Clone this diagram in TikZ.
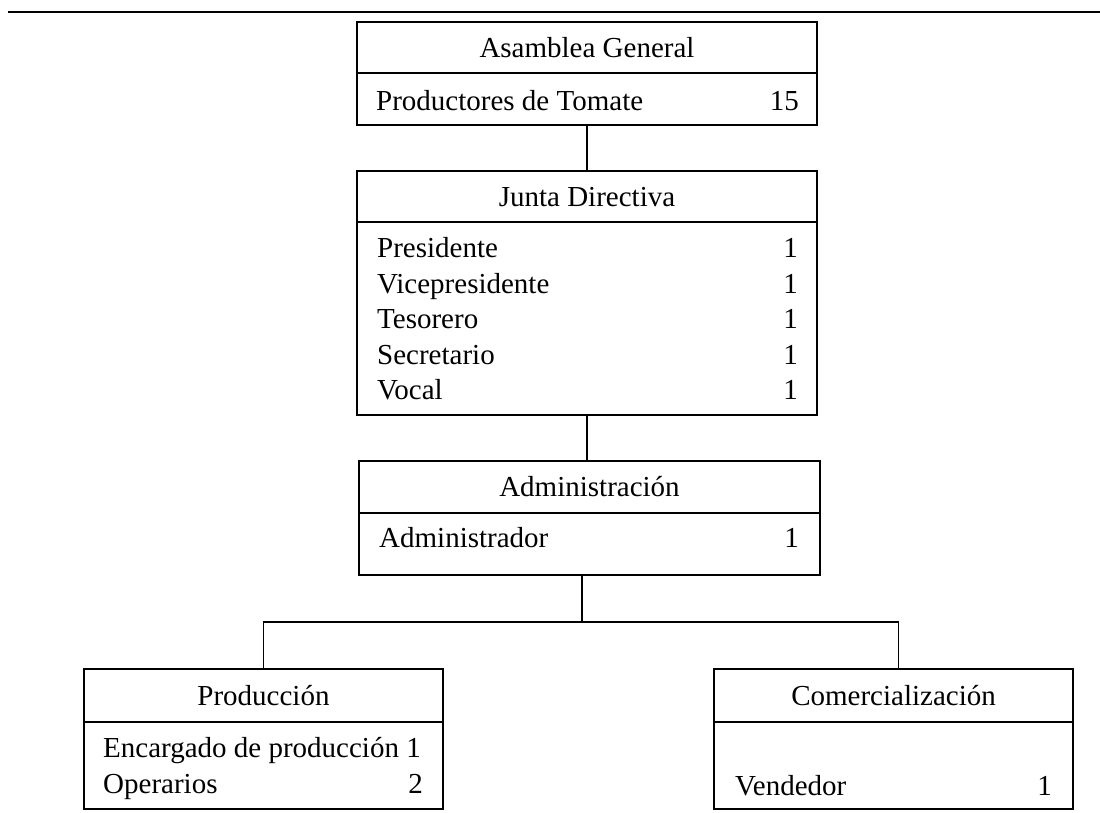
\documentclass[tikz,border=0pt]{standalone}
\usepackage{fontspec}
\setmainfont{Liberation Serif}
\newcommand{\fs}{\fontsize{29}{35}\selectfont}
\begin{document}
\begin{tikzpicture}[x=1pt,y=-1pt,
  box/.style={draw, line width=1.3pt, inner sep=0pt, outer sep=0pt, anchor=north west},
  hd/.style={box, text height=19.5pt, text depth=0pt, font=\fs},
  item/.style={inner sep=0pt, anchor=base west, font=\fs},
  num/.style={inner sep=0pt, anchor=base east, font=\fs},
  link/.style={line width=1.3pt}]
\useasboundingbox (0,0) rectangle (1100,812);
\draw[line width=2.5pt] (8,12) -- (1100,12);

% Asamblea General
\node[hd, minimum width=460pt, minimum height=51pt] (agh) at (357,22) {Asamblea General};
\node[box, minimum width=460pt, minimum height=52pt] (agb) at (agh.south west) {};
\node[item] (agt) at (376,110) {Productores de Tomate};
\node[num] (agn) at (799,110) {15};

% Junta Directiva
\node[hd, minimum width=460pt, minimum height=51pt] (jdh) at (357,171) {Junta Directiva};
\node[box, minimum width=460pt, minimum height=193pt] (jdb) at (jdh.south west) {};
\node[item] (j1) at (377,257) {Presidente};
\node[item] (j2) at (377,293) {Vicepresidente};
\node[item] (j3) at (377,328) {Tesorero};
\node[item] (j4) at (377,364) {Secretario};
\node[item] (j5) at (377,399) {Vocal};
\node[num] (n1) at (798,257) {1};
\node[num] (n2) at (798,293) {1};
\node[num] (n3) at (798,328) {1};
\node[num] (n4) at (798,364) {1};
\node[num] (n5) at (798,399) {1};

% Administracion
\node[hd, minimum width=461pt, minimum height=52pt] (adh) at (359,461) {Administración};
\node[box, minimum width=461pt, minimum height=62pt] (adb) at (adh.south west) {};
\node[item] (adt) at (379,547) {Administrador};
\node[num] (adn) at (799,547) {1};

% Produccion
\node[hd, minimum width=359pt, minimum height=53pt] (prh) at (84,669) {Producción};
\node[box, minimum width=359pt, minimum height=87pt] (prb) at (prh.south west) {};
\node[item] (pr1) at (103,757) {Encargado de producción 1};
\node[item] (pr2) at (103,793) {Operarios};
\node[num] (prn) at (423,793) {2};

% Comercializacion
\node[hd, minimum width=359pt, minimum height=53pt] (coh) at (714,669) {Comercialización};
\node[box, minimum width=359pt, minimum height=87pt] (cob) at (coh.south west) {};
\node[item] (cot) at (735,795) {Vendedor};
\node[num] (con) at (1052,795) {1};

% connectors
\draw[link] (agb.south) -- (agb.south |- jdh.north);
\draw[link] (jdb.south) -- (jdb.south |- adh.north);
\coordinate (bar) at (582,622);
\draw[link] (adb.south -| bar) -- (bar);
\draw[link] (prh.north) |- (bar) -| ([xshift=5pt]coh.north);
\end{tikzpicture}
\end{document}
